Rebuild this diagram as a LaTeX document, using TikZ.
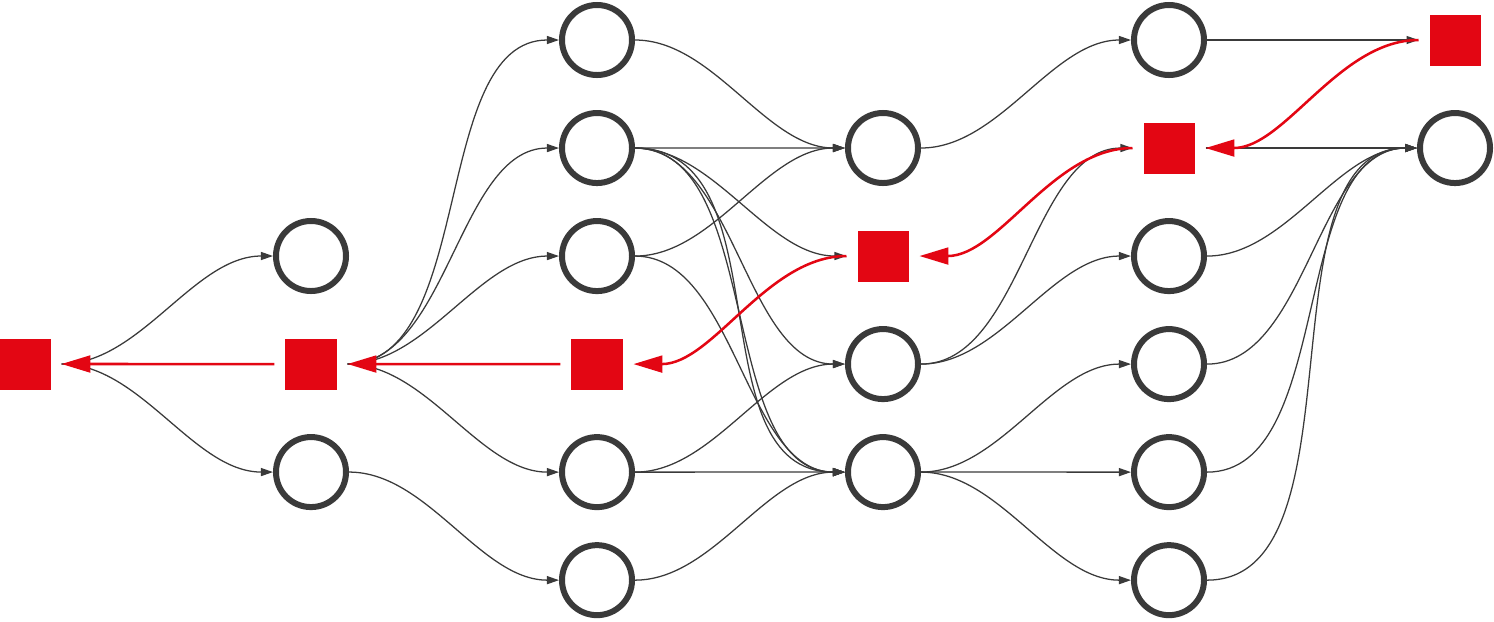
\documentclass[tikz,border=0pt]{standalone}
\usepackage{tikz}
\usetikzlibrary{arrows.meta}
\definecolor{ringgray}{RGB}{58,58,58}
\definecolor{markred}{RGB}{227,6,19}
\tikzstyle{state} = [circle, minimum size=1.75cm, inner sep=0pt, line width=0.15cm, draw=ringgray]
\tikzstyle{marker} = [rectangle, minimum size=1.275cm, inner sep=0pt, outer sep=0.275cm, fill=markred]
\tikzstyle{link} = [draw=ringgray, line width=0.9pt, -{Triangle[length=0.3cm,width=0.2cm]}, out=0, in=180, looseness=0.85]
\tikzstyle{backlink} = [draw=markred, line width=1.8pt, -{Triangle[length=0.72cm,width=0.42cm]}, out=180, in=0, looseness=0.85]

\begin{document}
\begin{tikzpicture}[x=0.025cm, y=-0.025cm, node distance=2.7cm]
        \useasboundingbox (0,0) rectangle (1494,621);

        \node (square-0) [marker] at (25,364) {};

        \node (circle-1-2) [state] at (311,256) {};
        \node (square-1) [marker, below of=circle-1-2] {};
        \node (circle-1-4) [state, below of=square-1] {};

        \node (circle-2-0) [state] at (597,40) {};
        \node (circle-2-1) [state, below of=circle-2-0] {};
        \node (circle-2-2) [state, below of=circle-2-1] {};
        \node (square-2) [marker, below of=circle-2-2] {};
        \node (circle-2-4) [state, below of=square-2] {};
        \node (circle-2-5) [state, below of=circle-2-4] {};

        \node (circle-3-1) [state] at (883,148) {};
        \node (square-3) [marker, below of=circle-3-1] {};
        \node (circle-3-3) [state, below of=square-3] {};
        \node (circle-3-4) [state, below of=circle-3-3] {};

        \node (circle-4-0) [state] at (1169,40) {};
        \node (square-4) [marker, below of=circle-4-0] {};
        \node (circle-4-2) [state, below of=square-4] {};
        \node (circle-4-3) [state, below of=circle-4-2] {};
        \node (circle-4-4) [state, below of=circle-4-3] {};
        \node (circle-4-5) [state, below of=circle-4-4] {};

        \node (square-5) [marker] at (1455,40) {};
        \node (circle-5-1) [state, below of=square-5] {};

        % forward links
        \draw [link] (square-0) to (circle-1-2);
        \draw [link] (square-0) to (circle-1-4);
        \draw [link] (square-1) to (circle-2-0);
        \draw [link] (square-1) to (circle-2-1);
        \draw [link] (square-1) to (circle-2-2);
        \draw [link] (square-1) to (circle-2-4);
        \draw [link] (circle-1-4) to (circle-2-5);
        \draw [link] (circle-2-0) to (circle-3-1);
        \draw [link] (circle-2-1) to (circle-3-1);
        \draw [link] (circle-2-1) to (square-3);
        \draw [link] (circle-2-1) to (circle-3-3);
        \draw [link] (circle-2-1) to (circle-3-4);
        \draw [link, looseness=1] (circle-2-1) to (circle-3-4);
        \draw [link] (circle-2-2) to (circle-3-1);
        \draw [link] (circle-2-2) to (circle-3-4);
        \draw [link] (circle-2-4) to (circle-3-3);
        \draw [link] (circle-2-4) to (circle-3-4);
        \draw [link] (circle-2-5) to (circle-3-4);
        \draw [link] (circle-3-1) to (circle-4-0);
        \draw [link] (circle-3-3) to (square-4);
        \draw [link] (circle-3-3) to (circle-4-2);
        \draw [link] (circle-3-4) to (circle-4-3);
        \draw [link] (circle-3-4) to (circle-4-4);
        \draw [link] (circle-3-4) to (circle-4-5);
        \draw [link] (circle-4-0) to (square-5);
        \draw [link] (square-4) to (circle-5-1);
        \draw [link] (circle-4-2) to (circle-5-1);
        \draw [link] (circle-4-3) to (circle-5-1);
        \draw [link] (circle-4-4) to (circle-5-1);
        \draw [link] (circle-4-5) to (circle-5-1);

        % red path back
        \draw [backlink] (square-1) to (square-0);
        \draw [backlink] (square-2) to (square-1);
        \draw [backlink] (square-3) to (square-2);
        \draw [backlink] (square-4) to (square-3);
        \draw [backlink] (square-5) to (square-4);
    \end{tikzpicture}
\end{document}
